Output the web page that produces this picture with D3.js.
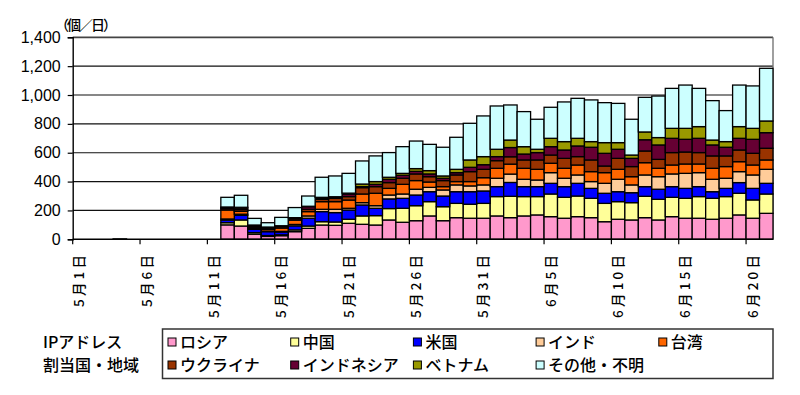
<!DOCTYPE html>
<html>
<head>
<meta charset="utf-8">
<script src="https://cdn.jsdelivr.net/npm/d3@7"></script>
<style>
  body { margin: 0; background: #fff; }
  svg text { fill: #000; }
  .jp { font-family: "Noto Sans CJK JP", sans-serif; font-weight: 500; }
  .num { font-family: "Liberation Sans", Arial, sans-serif; }
</style>
</head>
<body>
<div id="content"></div>
<script>
// days on the x axis, 5/1 .. 6/21
const dates = ["5/1","5/2","5/3","5/4","5/5","5/6","5/7","5/8","5/9","5/10","5/11",
  "5/12","5/13","5/14","5/15","5/16","5/17","5/18","5/19","5/20","5/21",
  "5/22","5/23","5/24","5/25","5/26","5/27","5/28","5/29","5/30","5/31",
  "6/1","6/2","6/3","6/4","6/5","6/6","6/7","6/8","6/9","6/10",
  "6/11","6/12","6/13","6/14","6/15","6/16","6/17","6/18","6/19","6/20","6/21"];

const tickDates = ["5/1","5/6","5/11","5/16","5/21","5/26","5/31","6/5","6/10","6/15","6/20"];
const tickLabels = ["5月1日","5月6日","5月11日","5月16日","5月21日","5月26日","5月31日","6月5日","6月10日","6月15日","6月20日"];
const yTicks = [0, 200, 400, 600, 800, 1000, 1200, 1400];

const seriesNames = ["ロシア","中国","米国","インド","台湾","ウクライナ","インドネシア","ベトナム","その他・不明"];
const seriesColors = ["#FF99CC","#FFFF99","#0000FF","#FFCC99","#FF6600","#993300","#660033","#999900","#CCFFFF"];

// daily counts, 5/1 .. 6/21 (52 days)
const russia = [0,0,0,0,0,0,0,0,0,0,0,
  100,92,35,20,25,53,76,99,97,111,
  104,99,134,118,129,162,129,150,146,146,
  162,150,162,169,157,146,157,150,122,139,
  134,150,134,157,146,146,139,146,169,146,
  180];
const china = [0,0,0,0,0,0,0,0,0,0,0,
  15,42,11,6,6,12,16,23,23,28,
  58,65,79,97,104,99,97,99,97,103,
  134,148,134,127,157,145,143,134,127,122,
  120,148,143,134,138,150,145,150,150,127,
  134];
const usa = [0,0,0,0,0,0,0,0,0,0,0,
  18,32,23,27,20,28,54,70,65,64,
  76,51,67,69,74,69,74,81,87,86,
  69,96,69,69,74,74,88,69,70,69,
  69,67,70,74,69,69,46,57,74,80,
  74];
const india = [0,0,0,0,0,0,0,0,0,0,0,
  8,8,6,4,4,10,16,16,23,12,
  16,18,27,30,40,30,42,47,40,42,
  58,58,51,46,74,58,58,47,69,86,
  54,81,87,88,104,97,86,70,76,93,
  97];
const taiwan = [0,0,0,0,0,0,0,0,0,0,0,
  62,20,9,12,23,30,30,53,53,57,
  60,86,46,67,60,37,23,23,30,50,
  69,69,76,74,65,69,69,69,74,69,
  57,85,58,62,65,60,76,81,69,69,
  65];
const ukraine = [0,0,0,0,0,0,0,0,0,0,0,
  10,12,7,8,10,10,16,16,23,24,
  44,46,40,42,46,37,42,46,69,58,
  53,51,58,65,57,69,58,81,46,76,
  70,81,62,86,83,79,86,74,81,81,
  81];
const indonesia = [0,0,0,0,0,0,0,0,0,0,0,
  6,10,5,6,4,5,18,9,6,18,
  7,16,23,21,18,19,16,16,30,32,
  28,64,41,51,58,58,74,88,88,63,
  57,78,100,99,88,99,76,60,81,97,
  108];
const vietnam = [0,0,0,0,0,0,0,0,0,0,0,
  5,6,3,2,2,2,3,5,5,6,
  18,19,14,13,19,23,16,23,51,56,
  51,52,51,23,58,58,53,39,74,46,
  23,54,51,69,76,81,34,39,81,76,
  81];
const other = [0,0,0,3,0,0,0,0,0,0,0,
  67,83,46,30,58,70,71,139,144,137,
  160,178,171,185,191,182,199,222,254,282,
  300,243,243,208,215,275,277,289,277,272,
  248,240,288,277,300,265,273,215,288,294,
  365];

const seriesValues = [russia, china, usa, india, taiwan, ukraine, indonesia, vietnam, other];

const W = 800, H = 395;
const plotLeft = 72.7, plotRight = 773, plotTop = 37.3, plotBottom = 239.3;

const svg = d3.select("#content").append("svg")
    .attr("width", W)
    .attr("height", H);

const x = d3.scaleBand().domain(dates).range([plotLeft, plotRight]).padding(0);
const y = d3.scaleLinear().domain([0, 1400]).range([plotBottom, plotTop]);

// rows for the stack
const table = dates.map((d, i) => {
    const row = { date: d };
    seriesNames.forEach((s, k) => { row[s] = seriesValues[k][i]; });
    return row;
});
const stacked = d3.stack().keys(seriesNames)(table);

// gridlines
svg.append("g")
    .selectAll("line")
    .data(yTicks.filter(v => v > 0))
    .enter()
    .append("line")
    .attr("x1", plotLeft)
    .attr("x2", plotRight)
    .attr("y1", d => y(d))
    .attr("y2", d => y(d))
    .style("stroke", d => d === 1400 ? "#444" : "#111")
    .style("stroke-width", d => d === 1400 ? 1.8 : 1.2);

// right frame
svg.append("line")
    .attr("x1", plotRight).attr("x2", plotRight)
    .attr("y1", plotTop).attr("y2", plotBottom)
    .style("stroke", "#777")
    .style("stroke-width", 1.4);

// bars
svg.append("g")
    .selectAll("g")
    .data(stacked)
    .enter()
    .append("g")
    .style("fill", (d, i) => seriesColors[i])
    .selectAll("rect")
    .data(d => d.filter(p => p[1] - p[0] > 0))
    .enter()
    .append("rect")
    .attr("x", d => x(d.data.date))
    .attr("width", x.bandwidth())
    .attr("y", d => y(d[1]))
    .attr("height", d => y(d[0]) - y(d[1]))
    .style("stroke", "#000")
    .style("stroke-width", 1.3);

// y axis
const yAxis = svg.append("g")
    .attr("transform", "translate(" + plotLeft + ",0)")
    .call(d3.axisLeft(y).tickValues(yTicks).tickSize(5).tickPadding(7).tickFormat(d3.format(",")));
yAxis.select(".domain").style("stroke", "#000").style("stroke-width", 1.4);
yAxis.selectAll(".tick line").style("stroke", "#000").style("stroke-width", 1.2);
yAxis.selectAll("text")
    .attr("class", "num")
    .style("font-size", "16px")
    .style("fill", "#000");

// x axis
svg.append("line")
    .attr("x1", plotLeft).attr("x2", plotRight)
    .attr("y1", plotBottom).attr("y2", plotBottom)
    .style("stroke", "#000")
    .style("stroke-width", 1.4);

svg.append("g")
    .selectAll("line")
    .data(tickDates)
    .enter()
    .append("line")
    .attr("x1", d => x(d))
    .attr("x2", d => x(d))
    .attr("y1", plotBottom)
    .attr("y2", plotBottom + 5)
    .style("stroke", "#000")
    .style("stroke-width", 1.2);

svg.append("g")
    .selectAll("text")
    .data(tickDates)
    .enter()
    .append("text")
    .attr("class", "jp")
    .attr("transform", d => "translate(" + (x(d) + x.bandwidth() / 2) + ",255) rotate(-90)")
    .attr("text-anchor", "end")
    .attr("dy", "0.36em")
    .attr("textLength", (d, i) => tickLabels[i].length === 4 ? 52 : 63)
    .attr("lengthAdjust", "spacing")
    .style("font-size", "13.5px")
    .text((d, i) => tickLabels[i]);

// unit
svg.append("text")
    .attr("class", "jp")
    .attr("x", 55)
    .attr("y", 30)
    .attr("textLength", 62)
    .attr("lengthAdjust", "spacing")
    .style("font-size", "14px")
    .text("（個／日）");

// legend
svg.append("text").attr("class", "jp")
    .attr("x", 43).attr("y", 342).attr("dy", "0.36em")
    .style("font-size", "16px")
    .text("IPアドレス");
svg.append("text").attr("class", "jp")
    .attr("x", 43).attr("y", 365).attr("dy", "0.36em")
    .style("font-size", "16px")
    .text("割当国・地域");

svg.append("rect")
    .attr("x", 162.5).attr("y", 329)
    .attr("width", 610.5).attr("height", 49.5)
    .style("fill", "none")
    .style("stroke", "#333")
    .style("stroke-width", 1.5);

const items = svg.append("g")
    .selectAll("g")
    .data(seriesNames)
    .enter()
    .append("g")
    .attr("transform", (d, i) => "translate(" + (168 + (i % 5) * 122.7) + "," + (i < 5 ? 342 : 365) + ")");
items.append("rect")
    .attr("x", 0).attr("y", -4)
    .attr("width", 8).attr("height", 8)
    .style("fill", (d, i) => seriesColors[i])
    .style("stroke", "#000")
    .style("stroke-width", 1);
items.append("text")
    .attr("class", "jp")
    .attr("x", 12)
    .attr("dy", "0.36em")
    .style("font-size", "16px")
    .text(d => d);
</script>
</body>
</html>
